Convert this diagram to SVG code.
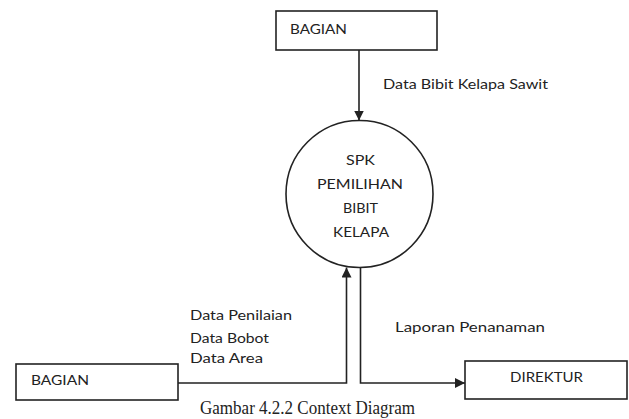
<svg xmlns="http://www.w3.org/2000/svg" width="629" height="419" viewBox="0 0 629 419">
<defs>
<style>
.box{fill:#fff;stroke:#222;stroke-width:1.6}
.lbl{font-family:Lato,"DejaVu Sans",sans-serif;font-size:14px;fill:#222}
.ln{fill:none;stroke:#222;stroke-width:1.6}
.cap{font-family:"Liberation Serif","Times New Roman",serif;font-size:19px;fill:#222}
</style>
<marker id="ah" viewBox="0 0 10 10" refX="10" refY="5" markerWidth="10" markerHeight="10" markerUnits="userSpaceOnUse" orient="auto">
<path d="M0,0 L10,5 L0,10 z" fill="#222"/>
</marker>
</defs>
<rect width="629" height="419" fill="#fff"/>
<g id="bagian-top">
<rect class="box" x="276" y="11" width="161" height="39"/>
<text class="lbl" x="290" y="34" textLength="57" lengthAdjust="spacingAndGlyphs">BAGIAN</text>
</g>
<g id="spk">
<circle class="box" cx="359.5" cy="194" r="73.5"/>
<text class="lbl" x="346" y="165" textLength="29" lengthAdjust="spacingAndGlyphs">SPK</text>
<text class="lbl" x="317" y="189" textLength="86" lengthAdjust="spacingAndGlyphs">PEMILIHAN</text>
<text class="lbl" x="343" y="213" textLength="35" lengthAdjust="spacingAndGlyphs">BIBIT</text>
<text class="lbl" x="333" y="237" textLength="56" lengthAdjust="spacingAndGlyphs">KELAPA</text>
</g>
<g id="bagian-bottom">
<rect class="box" x="16" y="364" width="162" height="36"/>
<text class="lbl" x="31" y="385" textLength="58" lengthAdjust="spacingAndGlyphs">BAGIAN</text>
</g>
<g id="direktur">
<rect class="box" x="465" y="361" width="162" height="38"/>
<text class="lbl" x="510" y="382" textLength="73" lengthAdjust="spacingAndGlyphs">DIREKTUR</text>
</g>
<g id="connectors">
<path class="ln" d="M359,50 V120.5" marker-end="url(#ah)"/>
<path class="ln" d="M178,383 H346.5 V267.5" marker-end="url(#ah)"/>
<path class="ln" d="M360.5,267.5 V383 H465" marker-end="url(#ah)"/>
<text class="lbl" x="383" y="89" textLength="165" lengthAdjust="spacingAndGlyphs">Data Bibit Kelapa Sawit</text>
<text class="lbl" x="190" y="320" textLength="102" lengthAdjust="spacingAndGlyphs">Data Penilaian</text>
<text class="lbl" x="190" y="343" textLength="79" lengthAdjust="spacingAndGlyphs">Data Bobot</text>
<text class="lbl" x="190" y="363" textLength="73" lengthAdjust="spacingAndGlyphs">Data Area</text>
<text class="lbl" x="395" y="332" textLength="150" lengthAdjust="spacingAndGlyphs">Laporan Penanaman</text>
</g>
<text class="cap" x="200" y="414" textLength="215" lengthAdjust="spacingAndGlyphs">Gambar 4.2.2 Context Diagram</text>
</svg>
